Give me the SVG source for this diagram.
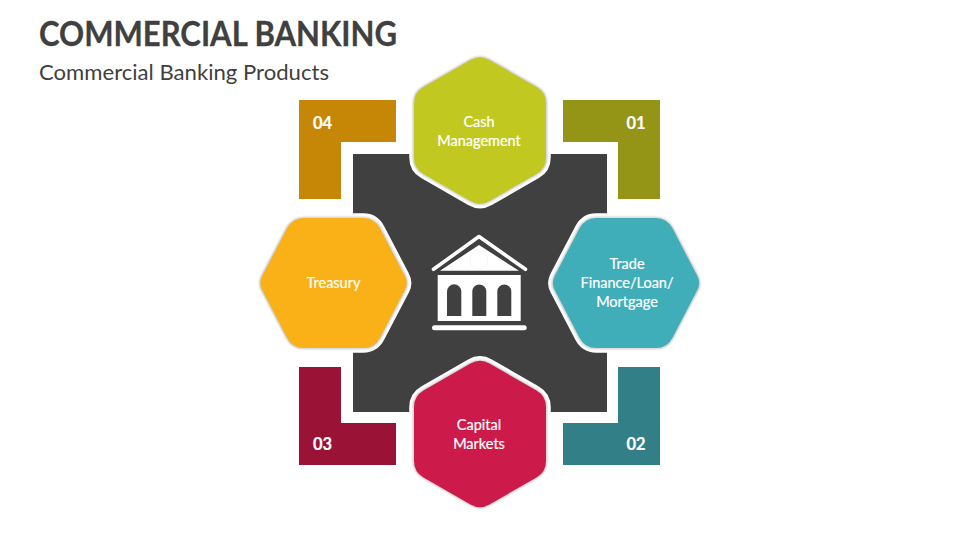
<svg xmlns="http://www.w3.org/2000/svg" width="960" height="540" viewBox="0 0 960 540">
<defs>
<filter id="soft" x="-20%" y="-20%" width="140%" height="140%"><feGaussianBlur stdDeviation="0.9"/></filter>
<path id="hexV" d="M-9.500 -70.500 Q0 -76 9.500 -70.500 L56.500 -43.500 Q66 -38 66 -27 L66 27 Q66 38 56.500 43.500 L9.500 70.500 Q0 76 -9.500 70.500 L-56.500 43.500 Q-66 38 -66 27 L-66 -27 Q-66 -38 -56.500 -43.500 Z"/>
<path id="hexH" d="M-71.300 -7.100 Q-75 0 -71.300 7.100 L-46.600 54.400 Q-41 65 -30 65 L30 65 Q41 65 46.600 54.400 L71.300 7.100 Q75 0 71.300 -7.100 L46.600 -54.400 Q41 -65 30 -65 L-30 -65 Q-41 -65 -46.600 -54.400 Z"/>
</defs>
<style>
.bg{fill:#fff}
.halo{fill:#fff;stroke:#fff;stroke-width:9.500;stroke-linejoin:round}
.shade{fill:none;stroke:#8c8c8c;stroke-width:1.200;filter:url(#soft)}
text{font-family:Lato,"Open Sans","Liberation Sans",sans-serif}
.lbl{fill:#fff;stroke:#fff;stroke-width:.2;font-size:14.500px;text-anchor:middle}
.num{fill:#fff;stroke:#fff;stroke-width:.2;font-size:16.500px;font-weight:700;text-anchor:middle}
.ic{fill:#fff}
.win{fill:#404040}
</style>
<rect class="bg" width="960" height="540"/>
<text x="39" y="46" font-size="35" font-weight="700" fill="#404040" stroke="#404040" stroke-width=".3" textLength="358" lengthAdjust="spacingAndGlyphs">COMMERCIAL BANKING</text>
<text x="39" y="80" font-size="21.500" fill="#404040" textLength="290" lengthAdjust="spacingAndGlyphs">Commercial Banking Products</text>

<g id="corner-04"><path d="M299 100H396V142H341V199H299Z" fill="#c68706"/><text class="num" x="322.500" y="128.500">04</text></g>
<g id="corner-01"><path d="M563 100H660V199H618V142H563Z" fill="#949516"/><text class="num" x="636" y="128.500">01</text></g>
<g id="corner-03"><path d="M299 367H341V423H396V465H299Z" fill="#9a1236"/><text class="num" x="322.500" y="450">03</text></g>
<g id="corner-02"><path d="M618 367H660V465H563V423H618Z" fill="#337f88"/><text class="num" x="636" y="450">02</text></g>

<g id="center">
<rect x="353" y="154" width="254" height="258" fill="#404040"/>
</g>

<g id="icon">
<path d="M433.500 269.300L479 236.500L525.500 269.300" fill="none" stroke="#fff" stroke-width="3.600" stroke-linecap="round" stroke-linejoin="round"/>
<path class="ic" d="M479 245L519 270.700H440Z"/>
<circle cx="479" cy="260" r="9" fill="none" stroke="#eee" stroke-width=".6"/>
<rect class="ic" x="437.700" y="275" width="83" height="46"/>
<path class="win" d="M447 316V291.500A7.150 7.150 0 0 1 461.300 291.500V316Z"/>
<path class="win" d="M472.300 316V291.500A7 7 0 0 1 486.300 291.500V316Z"/>
<path class="win" d="M497.300 316V291.500A7 7 0 0 1 511.300 291.500V316Z"/>
<rect class="ic" x="432" y="325.300" width="94.700" height="5" rx="2.500"/>
</g>

<g id="hex-cash" transform="translate(480 130.500)">
<use href="#hexV" class="halo"/><use href="#hexV" class="shade"/><use href="#hexV" fill="#c1c920"/>
<text class="lbl" x="-1" y="-4">Cash</text><text class="lbl" x="-1" y="15">Management</text>
</g>
<g id="hex-trade" transform="translate(626 283)">
<use href="#hexH" class="halo"/><use href="#hexH" class="shade"/><use href="#hexH" fill="#40aeb9"/>
<text class="lbl" x="1" y="-14">Trade</text><text class="lbl" x="1" y="5">Finance/Loan/</text><text class="lbl" x="1" y="24">Mortgage</text>
</g>
<g id="hex-capital" transform="translate(480 434)">
<use href="#hexV" class="halo"/><use href="#hexV" class="shade"/><use href="#hexV" fill="#cc1a4a"/>
<text class="lbl" x="-1" y="-4">Capital</text><text class="lbl" x="-1" y="15">Markets</text>
</g>
<g id="hex-treasury" transform="translate(333.500 283)">
<use href="#hexH" class="halo"/><use href="#hexH" class="shade"/><use href="#hexH" fill="#f9b117"/>
<text class="lbl" x="0" y="5">Treasury</text>
</g>
</svg>
